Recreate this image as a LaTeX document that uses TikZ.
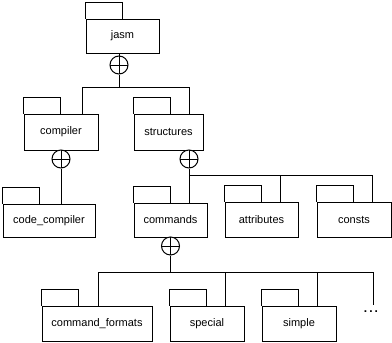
\documentclass[tikz,border=0pt]{standalone}
\usepackage{fontspec}
\setmainfont{Liberation Sans}
\begin{document}
\begin{tikzpicture}[x=1pt,y=-1pt,line width=1pt,
  pkg/.style={draw,rectangle,inner sep=0pt,minimum height=35pt,font=\fontsize{11}{12}\selectfont,
    append after command={\pgfextra{\draw[line width=1pt] (\tikzlastnode.north west) -- ++(0,-16) -- ++(37,0) -- ++(0,16);}}},
  nest/.style={draw,circle,inner sep=0pt,minimum size=18pt,fill=white,
    path picture={\draw[line width=1pt] (path picture bounding box.north) -- (path picture bounding box.south)
      (path picture bounding box.west) -- (path picture bounding box.east);}},
  conn/.style={line width=1pt}]
\useasboundingbox (0,0) rectangle (392,343);
% packages
\node[pkg,minimum width=73pt,minimum height=34pt] (jasm) at (122.5,36) {jasm};
\node[pkg,minimum width=74pt,minimum height=36pt] (compiler) at (61,132) {compiler};
\node[pkg,minimum width=69pt,minimum height=36pt] (structures) at (168.5,132) {structures};
\node[pkg,minimum width=92pt,minimum height=33pt] (codecompiler) at (49,220.5) {code\_compiler};
\node[pkg,minimum width=73pt,minimum height=34pt] (commands) at (170.5,220) {commands};
\node[pkg,minimum width=73pt] (attributes) at (261.5,219.5) {attributes};
\node[pkg,minimum width=74pt] (consts) at (354,219.5) {consts};
\node[pkg,minimum width=110pt] (cmdformats) at (97,323.5) {command\_formats};
\node[pkg,minimum width=74pt] (special) at (207,323.5) {special};
\node[pkg,minimum width=74pt] (simple) at (299,323.5) {simple};
% nesting circles
\node[nest] (n1) at (119,65) {};
\node[nest] (n2) at (61,159) {};
\node[nest] (n3) at (189,159) {};
\node[nest] (n4) at (170.5,246) {};
\coordinate (more) at (373,305);
\node[font=\fontsize{12}{12}\selectfont\bfseries,inner sep=0pt] (dots) at (371,312) {.\,.\,.};
% connectors
\draw[conn] (jasm.south -| n1) -- (n1.north);
\draw[conn] (n1.south) -- ++(0,13) coordinate (j1);
\draw[conn] (compiler.north -| 82,0) -- (82,87) -- (189,87) -- (structures.north -| 189,0);
\draw[conn] (compiler.south -| n2) -- (n2.north);
\draw[conn] (n2.south) -- (codecompiler.north -| n2);
\draw[conn] (structures.south -| n3) -- (n3.north);
\draw[conn] (n3.south) -- (commands.north -| n3);
\draw[conn] (189,175) -- (372,175) -- (consts.north -| 372,0);
\draw[conn] (280,175) -- (attributes.north -| 280,0);
\draw[conn] (commands.south -| n4) -- (n4.north);
\draw[conn] (n4.south) -- ++(0,17) coordinate (j4);
\draw[conn] (cmdformats.north -| 98,0) -- (98,272) -- (373,272) -- (more);
\draw[conn] (225,272) -- (special.north -| 225,0);
\draw[conn] (317,272) -- (simple.north -| 317,0);
\end{tikzpicture}
\end{document}
